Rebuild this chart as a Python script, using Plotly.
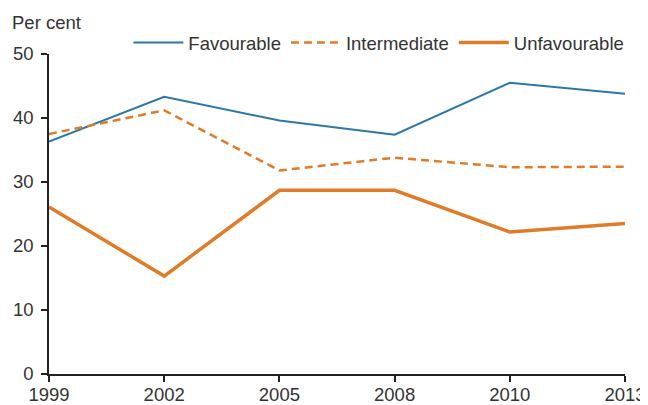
import plotly.graph_objects as go

years = ["1999", "2002", "2005", "2008", "2010", "2013"]
favourable = [36.3, 43.3, 39.6, 37.4, 45.5, 43.8]
intermediate = [37.5, 41.2, 31.8, 33.8, 32.3, 32.4]
unfavourable = [26.1, 15.3, 28.7, 28.7, 22.2, 23.5]

BLUE = "#2a78a6"
ORANGE = "#e07b28"
FONT = "Liberation Sans, Arial, sans-serif"
TXT = "#333333"
FS = 18.5

# The page body adds an 8px margin; size the figure so it fits the window.
OFF = 8
W, H = 648 - OFF, 405 - OFF
L = 48.5 - OFF
T = 54 - OFF
R = 648 - 625.5
B = 405 - 374.3
PW, PH = W - L - R, H - T - B

fig = go.Figure()
fig.add_trace(go.Scatter(x=years, y=favourable, name="Favourable", mode="lines",
                         line=dict(color=BLUE, width=2)))
fig.add_trace(go.Scatter(x=years, y=intermediate, name="Intermediate", mode="lines",
                         line=dict(color=ORANGE, width=2.5, dash="8px,5px")))
fig.add_trace(go.Scatter(x=years, y=unfavourable, name="Unfavourable", mode="lines",
                         line=dict(color=ORANGE, width=3.5)))

fig.update_layout(
    width=W, height=H,
    margin=dict(l=L, r=R, t=T, b=B, autoexpand=False),
    paper_bgcolor="white", plot_bgcolor="white",
    font=dict(family=FONT, size=FS, color=TXT),
    showlegend=True,
    legend=dict(orientation="h", x=(128 - OFF - L) / PW, y=1 + (T - (43 - OFF)) / PH,
                xanchor="left", yanchor="middle",
                font=dict(size=FS, color=TXT), bgcolor="rgba(0,0,0,0)",
                itemwidth=50, tracegroupgap=0),
    xaxis=dict(type="category", range=[0, 5], showgrid=False, zeroline=False,
               automargin=False,
               showline=True, linecolor="#222", linewidth=1.5,
               ticks="outside", ticklen=6, tickcolor="#222", tickwidth=1.5,
               ticklabelstandoff=-3,
               tickfont=dict(size=FS, color=TXT)),
    yaxis=dict(range=[0, 50], dtick=10, showgrid=False, zeroline=False,
               automargin=False,
               showline=True, linecolor="#222", linewidth=1.5,
               ticks="outside", ticklen=6, tickcolor="#222", tickwidth=1.5,
               ticklabelstandoff=4,
               tickfont=dict(size=FS, color=TXT)),
    annotations=[dict(text="Per cent", xref="paper", yref="paper",
                      x=(9 - OFF - L) / PW, y=1 + (T - (22 - OFF)) / PH,
                      xanchor="left", yanchor="middle", showarrow=False,
                      font=dict(size=FS, color=TXT))],
)

fig.write_html("out.html")
